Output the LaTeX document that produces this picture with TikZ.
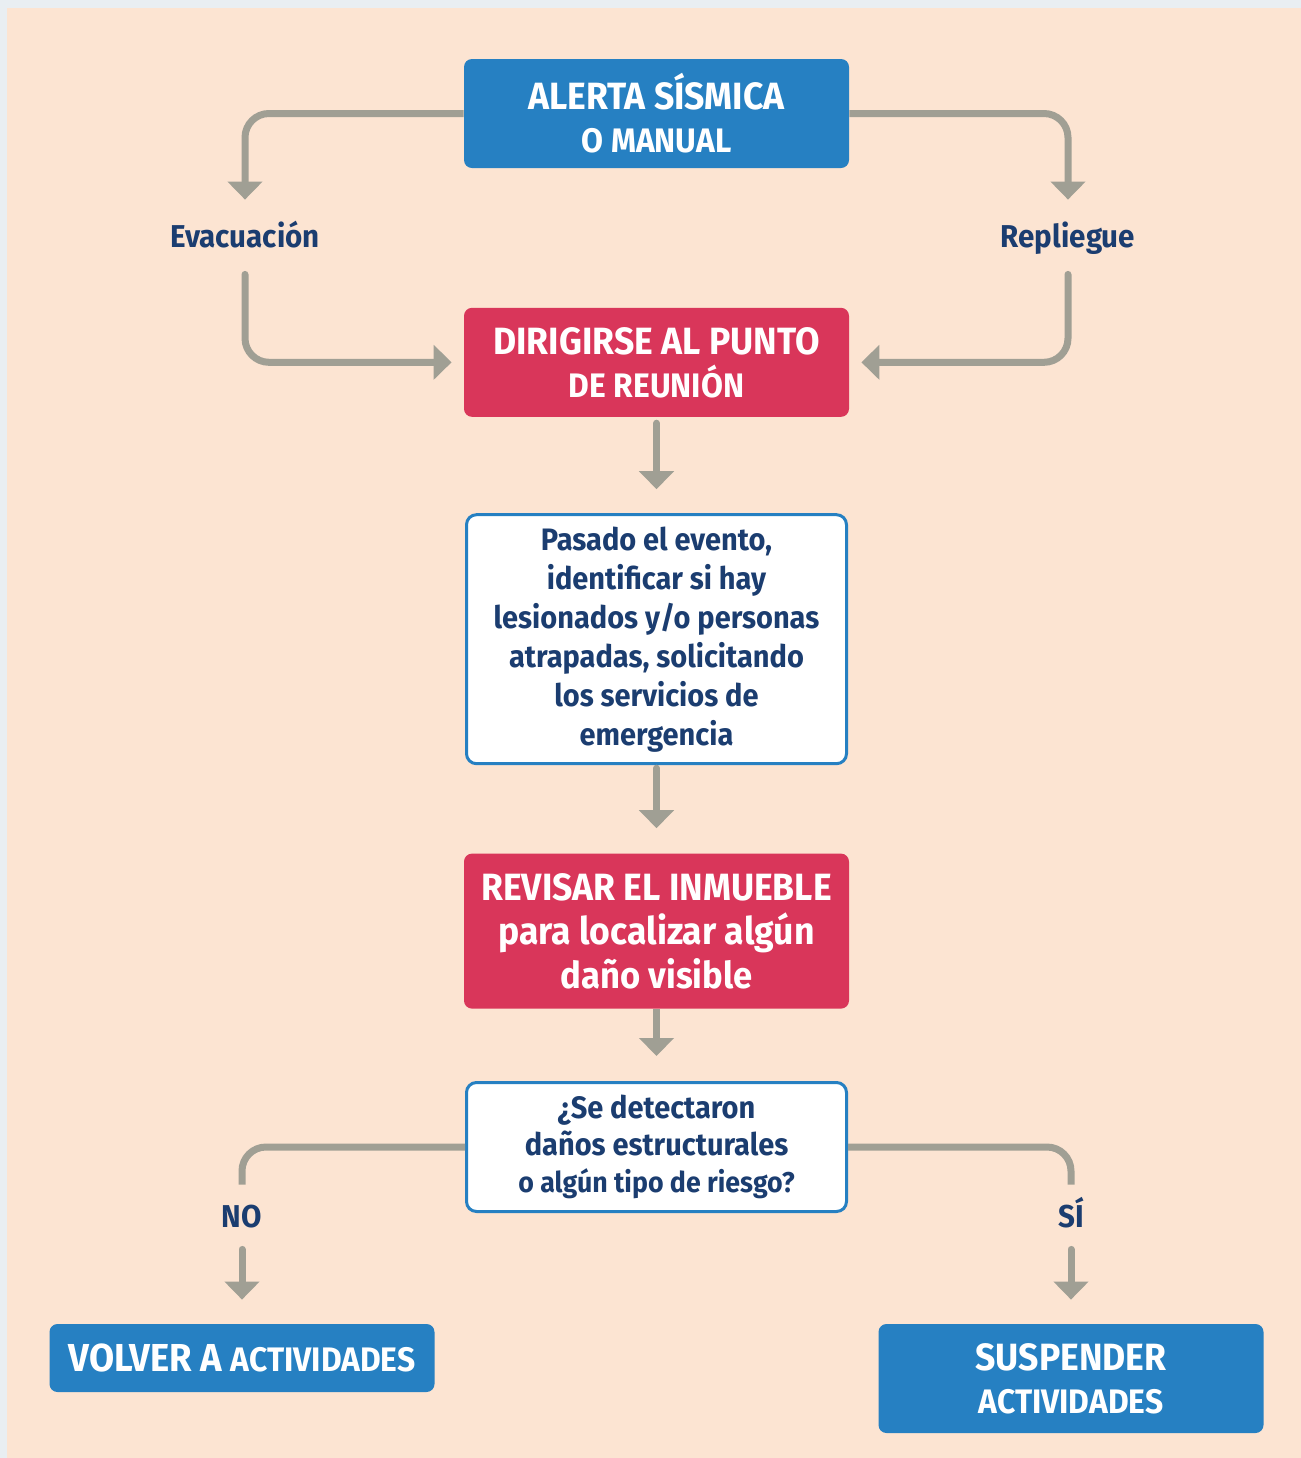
\documentclass[tikz,border=0pt]{standalone}
\usepackage{fontspec}
\setmainfont{Fira Sans}[FakeStretch=0.935]
\usetikzlibrary{positioning,arrows.meta}

\definecolor{peach}{HTML}{FCE4D2}
\definecolor{frame}{HTML}{E9EEF2}
\definecolor{azul}{HTML}{2680C2}
\definecolor{rojo}{HTML}{D9365A}
\definecolor{gris}{HTML}{A09F94}
\definecolor{marino}{HTML}{1B3D70}

\begin{document}
\begin{tikzpicture}[
    x=0.5pt, y=-0.5pt,
    box/.style = {
        rectangle, rounded corners=4pt,
        minimum width=192.5pt, minimum height=54.5pt,
        align=center, text=white, inner sep=0pt,
        font=\bfseries\fontsize{19}{21.5}\selectfont
    },
    whitebox/.style = {
        rectangle, rounded corners=5pt, draw=azul, line width=1.5pt, fill=white,
        minimum width=190pt, align=center, text=marino, inner sep=0pt,
        font=\bfseries\fontsize{15.5}{19.5}\selectfont
    },
    tag/.style = {text=marino, inner sep=0pt, text height=14pt, text depth=4pt,
        font=\bfseries\fontsize{15.8}{20}\selectfont},
    link/.style = {draw=gris, line width=3.5pt, line cap=round, rounded corners=12pt},
    arrow/.style = {link, -{Triangle[width=17pt,length=9pt]}}
]

% Background
\fill[frame] (0,0) rectangle (1301,1458);
\fill[peach] (7,8) rectangle (1301,1458);
\useasboundingbox (0,0) rectangle (1301,1458);

% Main column
\node[box, fill=azul] (alerta) at (656.5,113.5) {ALERTA SÍSMICA\\{\fontsize{17}{21.5}\selectfont O MANUAL}};
\node[box, fill=rojo, below=69.5pt of alerta] (punto) {DIRIGIRSE AL PUNTO\\{\fontsize{17}{21.5}\selectfont DE REUNIÓN}};
\node[whitebox, minimum height=124.5pt, below=48pt of punto] (pasado) {Pasado el evento,\\identificar si hay\\lesionados y/o personas\\atrapadas, solicitando\\los servicios de\\emergencia};
\node[box, fill=rojo, minimum height=77.5pt, below=44pt of pasado, font=\bfseries\fontsize{19}{22}\selectfont] (revisar) {REVISAR EL INMUEBLE\\para localizar algún\\{\fontsize{18.5}{22}\selectfont daño visible}};
\node[whitebox, minimum height=64.5pt, below=36pt of revisar, font=\bfseries\fontsize{15.5}{18.5}\selectfont] (pregunta) {¿Se detectaron\\daños estructurales\\{\fontsize{14.3}{18.5}\selectfont o algún tipo de riesgo?}};

% Side labels
\node[tag, minimum height=37pt] (evac) at (245,237) {Evacuación};
\node[tag, minimum height=37pt] (repl) at (1068,237) {Repliegue};
\node[tag, minimum height=32pt] (no) at (242,1217) {NO};
\node[tag, minimum height=32pt] (si) at (1071,1217) {SÍ};

% Outcomes
\node[box, fill=azul, minimum height=34pt] (volver) at (242,1358) {{\fontsize{19.5}{21.5}\selectfont VOLVER A} {\fontsize{17}{21.5}\selectfont ACTIVIDADES}};
\node[box, fill=azul] (suspender) at (1071,1378.5) {SUSPENDER\\{\fontsize{17}{21.5}\selectfont ACTIVIDADES}};

% Arrows
\draw[arrow, line cap=butt] (alerta.west) -| (evac.north);
\draw[arrow, line cap=butt] (alerta.east) -| (repl.north);
\draw[arrow, shorten >=6pt] (evac.south) |- (punto.west);
\draw[arrow, shorten >=6pt] (repl.south) |- (punto.east);
\draw[arrow, shorten <=3pt, shorten >=12pt] (punto) -- (pasado);
\draw[arrow, shorten <=1.5pt, shorten >=12.5pt] (pasado) -- (revisar);
\draw[arrow, line cap=butt, shorten >=12.5pt] (revisar) -- (pregunta);
\draw[link, line cap=butt] (pregunta.west) -| (no.north);
\draw[link, line cap=butt] (pregunta.east) -| (si.north);
\draw[arrow, shorten >=12pt] (no) -- (volver);
\draw[arrow, shorten >=12pt] (si) -- (suspender);

\end{tikzpicture}
\end{document}
